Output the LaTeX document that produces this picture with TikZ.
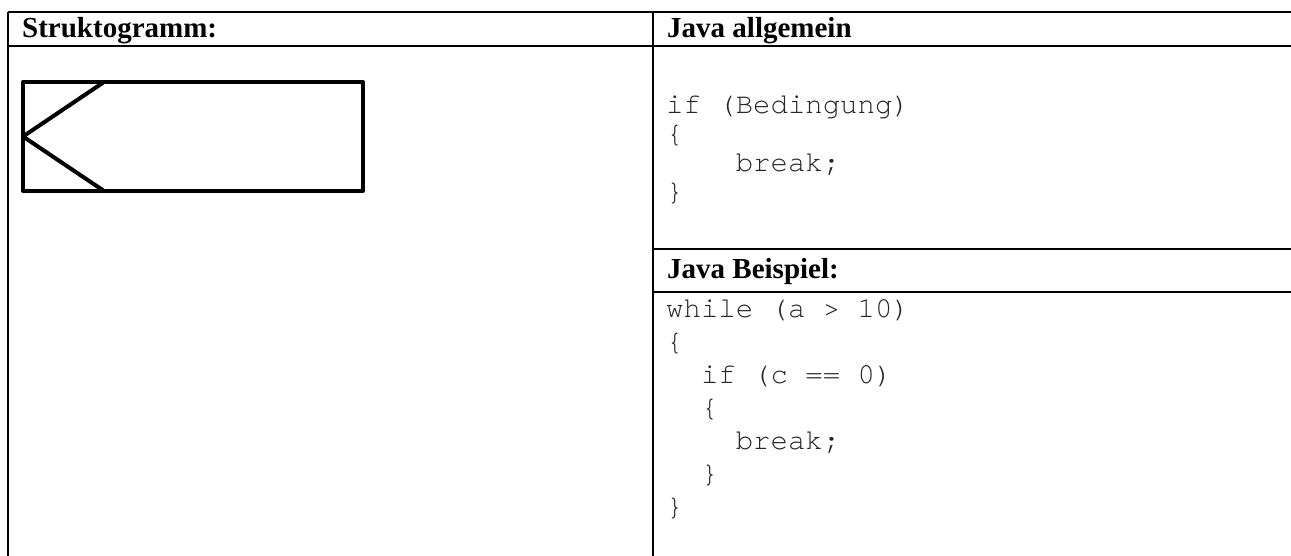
\documentclass[tikz,border=0pt]{standalone}
\usepackage{fontspec}
\setmainfont{Liberation Serif}
\setmonofont{TeX Gyre Cursor}
\begin{document}
\begin{tikzpicture}[x=1pt,y=-1pt,
  rule/.style={line width=2pt},
  boxline/.style={line width=4pt, line join=round},
  head/.style={anchor=base west, inner sep=0pt, font=\fontsize{29}{33}\selectfont\bfseries},
  code/.style={anchor=base west, inner sep=0pt, text=black!85, font=\fontsize{29}{33}\selectfont\ttfamily}]
\useasboundingbox (0,0) rectangle (1291,556);

% table frame
\coordinate (tl) at (8,12);
\coordinate (tr) at (1291,12);
\coordinate (hl) at (8,46.5);
\coordinate (hr) at (1291,46.5);
\coordinate (bl) at (8,556);
\coordinate (mt) at (653,12);
\coordinate (mb) at (653,556);
\coordinate (b1l) at (653,249);
\coordinate (b1r) at (1291,249);
\coordinate (b2l) at (653,292);
\coordinate (b2r) at (1291,292);
\draw[rule] (tl) -- (tr);
\draw[rule] (hl) -- (hr);
\draw[rule] (tl) -- (bl);
\draw[rule] (mt) -- (mb);
\draw[rule] (b1l) -- (b1r);
\draw[rule] (b2l) -- (b2r);

% headings
\node[head] (h1) at (22,38) {Struktogramm:};
\node[head] (h2) at (667,38) {Java allgemein};
\node[head] (h3) at (667,279) {Java Beispiel:};

% break symbol
\draw[boxline] (23,82) rectangle (363,191);
\coordinate (kt) at (104,82);
\coordinate (km) at (23,136.5);
\coordinate (kb) at (104,191);
\draw[boxline] (kt) -- (km) -- (kb);

% general form
\node[code] (a1) at (666,114) {if (Bedingung)};
\node[code] (a2) at (666,143) {\{};
\node[code] (a3) at (735.6,172) {break;};
\node[code] (a4) at (666,201) {\}};

% example
\node[code] (e1) at (666,317) {while (a > 10)};
\node[code] (e2) at (666,350) {\{};
\node[code] (e3) at (700.8,383) {if (c == 0)};
\node[code] (e4) at (700.8,416) {\{};
\node[code] (e5) at (735.6,449) {break;};
\node[code] (e6) at (700.8,482) {\}};
\node[code] (e7) at (666,515) {\}};
\end{tikzpicture}
\end{document}
